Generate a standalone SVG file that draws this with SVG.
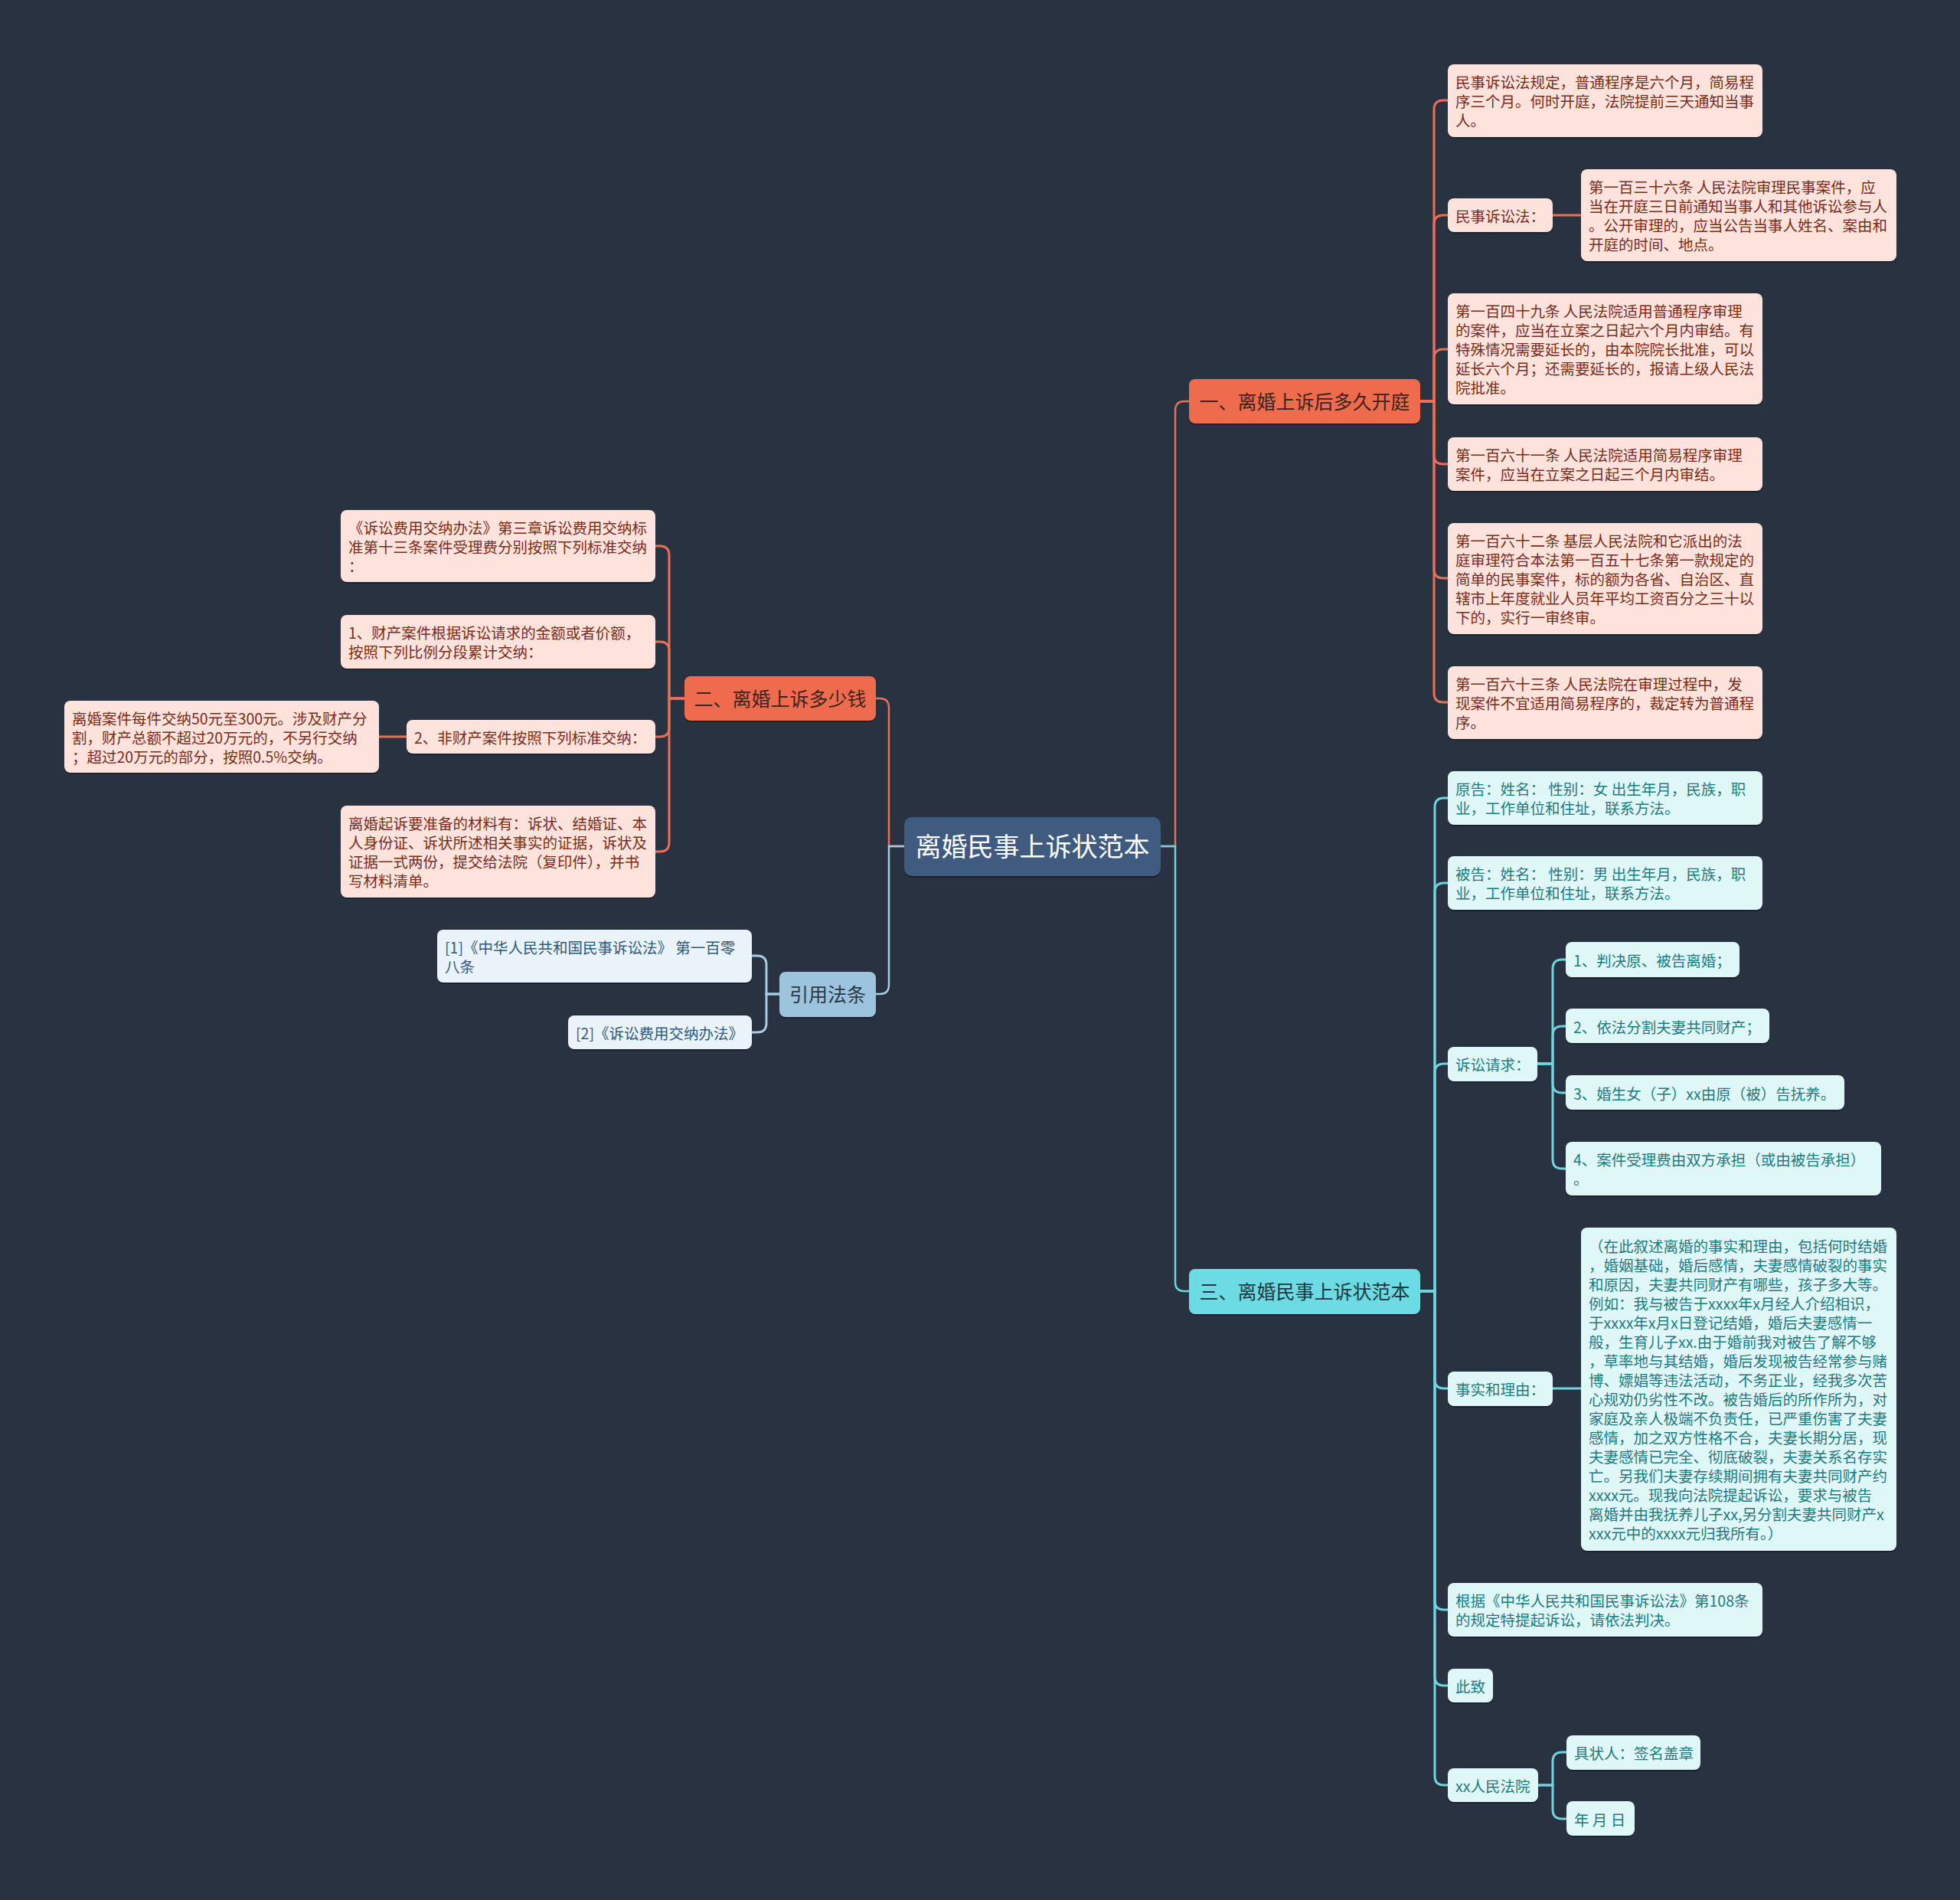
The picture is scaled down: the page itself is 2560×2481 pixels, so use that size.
<svg xmlns="http://www.w3.org/2000/svg" width="2560" height="2481" viewBox="0 0 2560 2481">
<style>
text{font-family:"Noto Sans CJK SC","Noto Sans",sans-serif;}
.lf{font-size:19.5px;transform:translate(0px,1.5px);}
.br{font-size:25px;transform:translate(0px,1px);}
.rt{font-size:34px;fill:#ffffff;}
.sh{fill:#1d232e;}
.o-leaf{fill:#fde3dc;}
.o-txt{fill:#7a2c1a;}
.o-br{fill:#ee6c4d;}
.o-brt{fill:#3e231d;}
.c-leaf{fill:#e0f7f8;}
.c-txt{fill:#1d7b80;}
.c-br{fill:#6ddbe4;}
.c-brt{fill:#1e3a40;}
.b-leaf{fill:#eaf3f9;}
.b-txt{fill:#2f5a7a;}
.b-br{fill:#9dc4dd;}
.b-brt{fill:#2b3948;}
.root{fill:#3f5b80;}
.cn{fill:none;stroke-width:3;stroke-linecap:round;}
.cr{fill:none;stroke-width:2.5;}
.oc{stroke:#e8705a;}
.cc{stroke:#6fd4de;}
.bc{stroke:#a8cce2;}
</style>
<rect x="0" y="0" width="2560" height="2481" fill="#293241"/>

<g id="connectors">
  <path class="cr oc" d="M1516 1105 H1535 V536 Q1535 524 1547 524 H1553"/>
  <path class="cr cc" d="M1516 1105 H1535 V1674 Q1535 1686 1547 1686 H1553"/>
  <path class="cr oc" d="M1181 1105 H1161 V924 Q1161 912 1149 912 H1144"/>
  <path class="cr bc" d="M1181 1105 H1161 V1286 Q1161 1298 1149 1298 H1144"/>
  <path class="cn oc" d="M1855 524 H1873 V143 Q1873 131 1885 131 H1891"/>
  <path class="cn oc" d="M1855 524 H1873 V293 Q1873 281 1885 281 H1891"/>
  <path class="cn oc" d="M1855 524 H1873 V468 Q1873 456 1885 456 H1891"/>
  <path class="cn oc" d="M1855 524 H1873 V594 Q1873 606 1885 606 H1891"/>
  <path class="cn oc" d="M1855 524 H1873 V743 Q1873 755 1885 755 H1891"/>
  <path class="cn oc" d="M1855 524 H1873 V905 Q1873 917 1885 917 H1891"/>
  <path class="cn oc" d="M2028 281 H2065"/>
  <path class="cn oc" d="M894 912 H874 V725 Q874 713 862 713 H856"/>
  <path class="cn oc" d="M894 912 H874 V850 Q874 838 862 838 H856"/>
  <path class="cn oc" d="M894 912 H874 V950 Q874 962 862 962 H856"/>
  <path class="cn oc" d="M894 912 H874 V1100 Q874 1112 862 1112 H856"/>
  <path class="cn oc" d="M531 962 H495"/>
  <path class="cn bc" d="M1018 1298 H1001 V1260 Q1001 1248 989 1248 H982"/>
  <path class="cn bc" d="M1018 1298 H1001 V1336 Q1001 1348 989 1348 H982"/>
  <path class="cn cc" d="M1855 1686 H1874 V1054 Q1874 1042 1886 1042 H1891"/>
  <path class="cn cc" d="M1855 1686 H1874 V1165 Q1874 1153 1886 1153 H1891"/>
  <path class="cn cc" d="M1855 1686 H1874 V1401 Q1874 1389 1886 1389 H1891"/>
  <path class="cn cc" d="M1855 1686 H1874 V1801 Q1874 1813 1886 1813 H1891"/>
  <path class="cn cc" d="M1855 1686 H1874 V2090 Q1874 2102 1886 2102 H1891"/>
  <path class="cn cc" d="M1855 1686 H1874 V2189 Q1874 2201 1886 2201 H1891"/>
  <path class="cn cc" d="M1855 1686 H1874 V2319 Q1874 2331 1886 2331 H1891"/>
  <path class="cn cc" d="M2008 1389 H2028 V1265 Q2028 1253 2040 1253 H2045"/>
  <path class="cn cc" d="M2008 1389 H2028 V1352 Q2028 1340 2040 1340 H2045"/>
  <path class="cn cc" d="M2008 1389 H2028 V1415 Q2028 1427 2040 1427 H2045"/>
  <path class="cn cc" d="M2008 1389 H2028 V1514 Q2028 1526 2040 1526 H2045"/>
  <path class="cn cc" d="M2028 1813 H2065"/>
  <path class="cn cc" d="M2009 2331 H2028 V2300 Q2028 2288 2040 2288 H2046"/>
  <path class="cn cc" d="M2009 2331 H2028 V2363 Q2028 2375 2040 2375 H2046"/>
</g>

<g id="root">
  <rect class="sh" x="1181" y="1069" width="335" height="77" rx="10"/>
  <rect class="root" x="1181" y="1067" width="335" height="77" rx="10"/>
  <text class="rt" x="1348.5" y="1118" text-anchor="middle">离婚民事上诉状范本</text>
</g>

<g id="branch1">
  <rect class="sh" x="1553" y="497" width="302" height="58" rx="8"/>
  <rect class="o-br" x="1553" y="495" width="302" height="58" rx="8"/>
  <text class="br o-brt" x="1704" y="533" text-anchor="middle">一、离婚上诉后多久开庭</text>
</g>
<g id="branch2">
  <rect class="sh" x="894" y="885" width="250" height="58" rx="8"/>
  <rect class="o-br" x="894" y="883" width="250" height="58" rx="8"/>
  <text class="br o-brt" x="1019" y="921" text-anchor="middle">二、离婚上诉多少钱</text>
</g>
<g id="branch3">
  <rect class="sh" x="1553" y="1659" width="302" height="59" rx="8"/>
  <rect class="c-br" x="1553" y="1657" width="302" height="59" rx="8"/>
  <text class="br c-brt" x="1704" y="1695" text-anchor="middle">三、离婚民事上诉状范本</text>
</g>
<g id="refs">
  <rect class="sh" x="1018" y="1271" width="126" height="59" rx="8"/>
  <rect class="b-br" x="1018" y="1269" width="126" height="59" rx="8"/>
  <text class="br b-brt" x="1081" y="1307" text-anchor="middle">引用法条</text>
</g>

<g id="r1">
  <rect class="sh" x="1891" y="86" width="411" height="95" rx="8"/>
  <rect class="o-leaf" x="1891" y="84" width="411" height="95" rx="8"/>
  <text class="lf o-txt" x="1901" y="113"><tspan x="1901">民事诉讼法规定，普通程序是六个月，简易程</tspan><tspan x="1901" dy="25">序三个月。何时开庭，法院提前三天通知当事</tspan><tspan x="1901" dy="25">人。</tspan></text>
</g>
<g id="r2">
  <rect class="sh" x="1891" y="261" width="137" height="44" rx="8"/>
  <rect class="o-leaf" x="1891" y="259" width="137" height="44" rx="8"/>
  <text class="lf o-txt" x="1901" y="288">民事诉讼法：</text>
</g>
<g id="r2a">
  <rect class="sh" x="2065" y="223" width="412" height="120" rx="8"/>
  <rect class="o-leaf" x="2065" y="221" width="412" height="120" rx="8"/>
  <text class="lf o-txt" x="2075" y="250"><tspan x="2075">第一百三十六条 人民法院审理民事案件，应</tspan><tspan x="2075" dy="25">当在开庭三日前通知当事人和其他诉讼参与人</tspan><tspan x="2075" dy="25">。公开审理的，应当公告当事人姓名、案由和</tspan><tspan x="2075" dy="25">开庭的时间、地点。</tspan></text>
</g>
<g id="r3">
  <rect class="sh" x="1891" y="385" width="411" height="145" rx="8"/>
  <rect class="o-leaf" x="1891" y="383" width="411" height="145" rx="8"/>
  <text class="lf o-txt" x="1901" y="412"><tspan x="1901">第一百四十九条 人民法院适用普通程序审理</tspan><tspan x="1901" dy="25">的案件，应当在立案之日起六个月内审结。有</tspan><tspan x="1901" dy="25">特殊情况需要延长的，由本院院长批准，可以</tspan><tspan x="1901" dy="25">延长六个月；还需要延长的，报请上级人民法</tspan><tspan x="1901" dy="25">院批准。</tspan></text>
</g>
<g id="r4">
  <rect class="sh" x="1891" y="573" width="411" height="70" rx="8"/>
  <rect class="o-leaf" x="1891" y="571" width="411" height="70" rx="8"/>
  <text class="lf o-txt" x="1901" y="600"><tspan x="1901">第一百六十一条 人民法院适用简易程序审理</tspan><tspan x="1901" dy="25">案件，应当在立案之日起三个月内审结。</tspan></text>
</g>
<g id="r5">
  <rect class="sh" x="1891" y="685" width="411" height="145" rx="8"/>
  <rect class="o-leaf" x="1891" y="683" width="411" height="145" rx="8"/>
  <text class="lf o-txt" x="1901" y="712"><tspan x="1901">第一百六十二条 基层人民法院和它派出的法</tspan><tspan x="1901" dy="25">庭审理符合本法第一百五十七条第一款规定的</tspan><tspan x="1901" dy="25">简单的民事案件，标的额为各省、自治区、直</tspan><tspan x="1901" dy="25">辖市上年度就业人员年平均工资百分之三十以</tspan><tspan x="1901" dy="25">下的，实行一审终审。</tspan></text>
</g>
<g id="r6">
  <rect class="sh" x="1891" y="872" width="411" height="95" rx="8"/>
  <rect class="o-leaf" x="1891" y="870" width="411" height="95" rx="8"/>
  <text class="lf o-txt" x="1901" y="899"><tspan x="1901">第一百六十三条 人民法院在审理过程中，发</tspan><tspan x="1901" dy="25">现案件不宜适用简易程序的，裁定转为普通程</tspan><tspan x="1901" dy="25">序。</tspan></text>
</g>

<g id="l1">
  <rect class="sh" x="445" y="668" width="411" height="94" rx="8"/>
  <rect class="o-leaf" x="445" y="666" width="411" height="94" rx="8"/>
  <text class="lf o-txt" x="455" y="695"><tspan x="455">《诉讼费用交纳办法》第三章诉讼费用交纳标</tspan><tspan x="455" dy="25">准第十三条案件受理费分别按照下列标准交纳</tspan><tspan x="455" dy="25">：</tspan></text>
</g>
<g id="l2">
  <rect class="sh" x="445" y="805" width="411" height="70" rx="8"/>
  <rect class="o-leaf" x="445" y="803" width="411" height="70" rx="8"/>
  <text class="lf o-txt" x="455" y="832"><tspan x="455">1、财产案件根据诉讼请求的金额或者价额，</tspan><tspan x="455" dy="25">按照下列比例分段累计交纳：</tspan></text>
</g>
<g id="l3">
  <rect class="sh" x="531" y="942" width="325" height="44" rx="8"/>
  <rect class="o-leaf" x="531" y="940" width="325" height="44" rx="8"/>
  <text class="lf o-txt" x="541" y="969">2、非财产案件按照下列标准交纳：</text>
</g>
<g id="l3a">
  <rect class="sh" x="84" y="917" width="411" height="94" rx="8"/>
  <rect class="o-leaf" x="84" y="915" width="411" height="94" rx="8"/>
  <text class="lf o-txt" x="94" y="944"><tspan x="94">离婚案件每件交纳50元至300元。涉及财产分</tspan><tspan x="94" dy="25">割，财产总额不超过20万元的，不另行交纳</tspan><tspan x="94" dy="25">；超过20万元的部分，按照0.5%交纳。</tspan></text>
</g>
<g id="l4">
  <rect class="sh" x="445" y="1054" width="411" height="120" rx="8"/>
  <rect class="o-leaf" x="445" y="1052" width="411" height="120" rx="8"/>
  <text class="lf o-txt" x="455" y="1081"><tspan x="455">离婚起诉要准备的材料有：诉状、结婚证、本</tspan><tspan x="455" dy="25">人身份证、诉状所述相关事实的证据，诉状及</tspan><tspan x="455" dy="25">证据一式两份，提交给法院（复印件），并书</tspan><tspan x="455" dy="25">写材料清单。</tspan></text>
</g>

<g id="ref1">
  <rect class="sh" x="571" y="1216" width="411" height="69" rx="8"/>
  <rect class="b-leaf" x="571" y="1214" width="411" height="69" rx="8"/>
  <text class="lf b-txt" x="581" y="1243"><tspan x="581">[1]《中华人民共和国民事诉讼法》 第一百零</tspan><tspan x="581" dy="25">八条</tspan></text>
</g>
<g id="ref2">
  <rect class="sh" x="742" y="1328" width="240" height="44" rx="8"/>
  <rect class="b-leaf" x="742" y="1326" width="240" height="44" rx="8"/>
  <text class="lf b-txt" x="752" y="1355">[2]《诉讼费用交纳办法》</text>
</g>

<g id="c1">
  <rect class="sh" x="1891" y="1009" width="411" height="70" rx="8"/>
  <rect class="c-leaf" x="1891" y="1007" width="411" height="70" rx="8"/>
  <text class="lf c-txt" x="1901" y="1036"><tspan x="1901">原告：姓名： 性别：女 出生年月，民族，职</tspan><tspan x="1901" dy="25">业，工作单位和住址，联系方法。</tspan></text>
</g>
<g id="c2">
  <rect class="sh" x="1891" y="1120" width="411" height="70" rx="8"/>
  <rect class="c-leaf" x="1891" y="1118" width="411" height="70" rx="8"/>
  <text class="lf c-txt" x="1901" y="1147"><tspan x="1901">被告：姓名： 性别：男 出生年月，民族，职</tspan><tspan x="1901" dy="25">业，工作单位和住址，联系方法。</tspan></text>
</g>
<g id="c3">
  <rect class="sh" x="1891" y="1369" width="117" height="45" rx="8"/>
  <rect class="c-leaf" x="1891" y="1367" width="117" height="45" rx="8"/>
  <text class="lf c-txt" x="1901" y="1396">诉讼请求：</text>
</g>
<g id="c3a">
  <rect class="sh" x="2045" y="1232" width="227" height="46" rx="8"/>
  <rect class="c-leaf" x="2045" y="1230" width="227" height="46" rx="8"/>
  <text class="lf c-txt" x="2055" y="1260">1、判决原、被告离婚；</text>
</g>
<g id="c3b">
  <rect class="sh" x="2045" y="1319" width="266" height="45" rx="8"/>
  <rect class="c-leaf" x="2045" y="1317" width="266" height="45" rx="8"/>
  <text class="lf c-txt" x="2055" y="1347">2、依法分割夫妻共同财产；</text>
</g>
<g id="c3c">
  <rect class="sh" x="2045" y="1406" width="364" height="45" rx="8"/>
  <rect class="c-leaf" x="2045" y="1404" width="364" height="45" rx="8"/>
  <text class="lf c-txt" x="2055" y="1434">3、婚生女（子）xx由原（被）告抚养。</text>
</g>
<g id="c3d">
  <rect class="sh" x="2045" y="1493" width="412" height="70" rx="8"/>
  <rect class="c-leaf" x="2045" y="1491" width="412" height="70" rx="8"/>
  <text class="lf c-txt" x="2055" y="1520"><tspan x="2055">4、案件受理费由双方承担（或由被告承担）</tspan><tspan x="2055" dy="25">。</tspan></text>
</g>
<g id="c4">
  <rect class="sh" x="1891" y="1793" width="137" height="45" rx="8"/>
  <rect class="c-leaf" x="1891" y="1791" width="137" height="45" rx="8"/>
  <text class="lf c-txt" x="1901" y="1820">事实和理由：</text>
</g>
<g id="c4a">
  <rect class="sh" x="2065" y="1605" width="412" height="422" rx="8"/>
  <rect class="c-leaf" x="2065" y="1603" width="412" height="422" rx="8"/>
  <text class="lf c-txt" x="2075" y="1633"><tspan x="2075">（在此叙述离婚的事实和理由，包括何时结婚</tspan><tspan x="2075" dy="25">，婚姻基础，婚后感情，夫妻感情破裂的事实</tspan><tspan x="2075" dy="25">和原因，夫妻共同财产有哪些，孩子多大等。</tspan><tspan x="2075" dy="25">例如：我与被告于xxxx年x月经人介绍相识，</tspan><tspan x="2075" dy="25">于xxxx年x月x日登记结婚，婚后夫妻感情一</tspan><tspan x="2075" dy="25">般，生育儿子xx.由于婚前我对被告了解不够</tspan><tspan x="2075" dy="25">，草率地与其结婚，婚后发现被告经常参与赌</tspan><tspan x="2075" dy="25">博、嫖娼等违法活动，不务正业，经我多次苦</tspan><tspan x="2075" dy="25">心规劝仍劣性不改。被告婚后的所作所为，对</tspan><tspan x="2075" dy="25">家庭及亲人极端不负责任，已严重伤害了夫妻</tspan><tspan x="2075" dy="25">感情，加之双方性格不合，夫妻长期分居，现</tspan><tspan x="2075" dy="25">夫妻感情已完全、彻底破裂，夫妻关系名存实</tspan><tspan x="2075" dy="25">亡。另我们夫妻存续期间拥有夫妻共同财产约</tspan><tspan x="2075" dy="25">xxxx元。现我向法院提起诉讼，要求与被告</tspan><tspan x="2075" dy="25">离婚并由我抚养儿子xx,另分割夫妻共同财产x</tspan><tspan x="2075" dy="25">xxx元中的xxxx元归我所有。）</tspan></text>
</g>
<g id="c5">
  <rect class="sh" x="1891" y="2069" width="411" height="70" rx="8"/>
  <rect class="c-leaf" x="1891" y="2067" width="411" height="70" rx="8"/>
  <text class="lf c-txt" x="1901" y="2096"><tspan x="1901">根据《中华人民共和国民事诉讼法》第108条</tspan><tspan x="1901" dy="25">的规定特提起诉讼，请依法判决。</tspan></text>
</g>
<g id="c6">
  <rect class="sh" x="1891" y="2181" width="59" height="44" rx="8"/>
  <rect class="c-leaf" x="1891" y="2179" width="59" height="44" rx="8"/>
  <text class="lf c-txt" x="1901" y="2208">此致</text>
</g>
<g id="c7">
  <rect class="sh" x="1891" y="2311" width="118" height="44" rx="8"/>
  <rect class="c-leaf" x="1891" y="2309" width="118" height="44" rx="8"/>
  <text class="lf c-txt" x="1901" y="2338">xx人民法院</text>
</g>
<g id="c7a">
  <rect class="sh" x="2046" y="2268" width="175" height="45" rx="8"/>
  <rect class="c-leaf" x="2046" y="2266" width="175" height="45" rx="8"/>
  <text class="lf c-txt" x="2056" y="2295">具状人：签名盖章</text>
</g>
<g id="c7b">
  <rect class="sh" x="2046" y="2354" width="89" height="45" rx="8"/>
  <rect class="c-leaf" x="2046" y="2352" width="89" height="45" rx="8"/>
  <text class="lf c-txt" x="2056" y="2382">年 月 日</text>
</g>
</svg>
